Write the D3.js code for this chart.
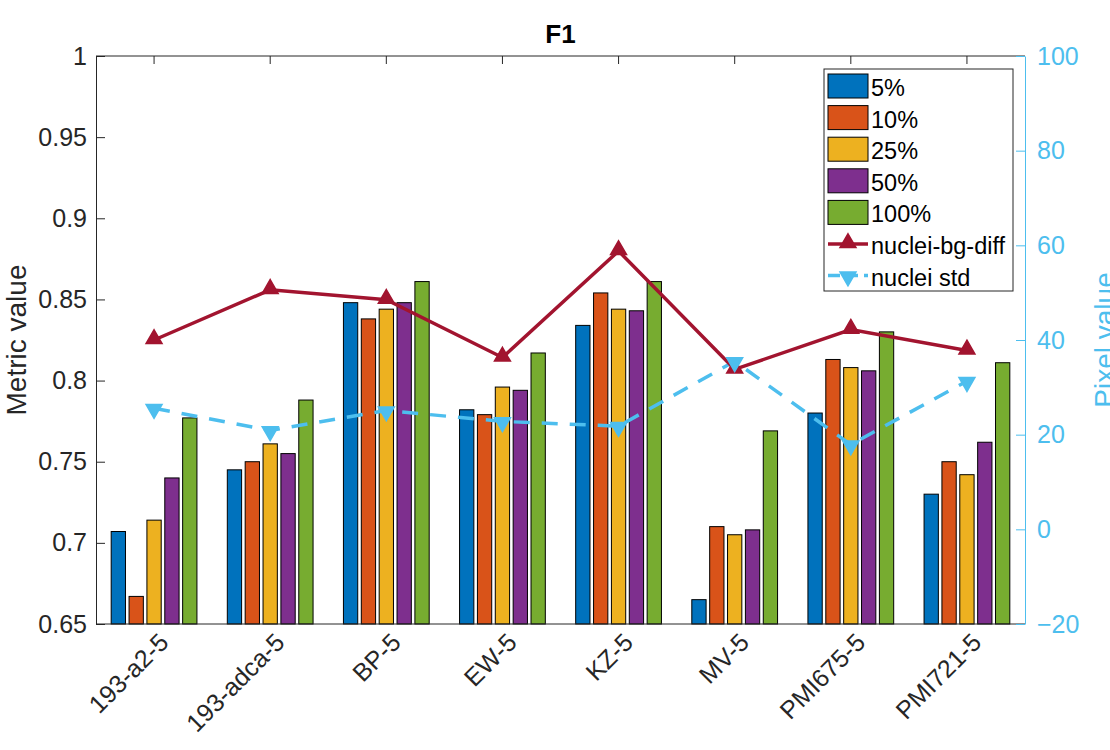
<!DOCTYPE html>
<html>
<head>
<meta charset="utf-8">
<script src="https://cdn.jsdelivr.net/npm/d3@7"></script>
<style>
  body { margin: 0; background: #fff; }
  text { font-family: "Liberation Sans", Arial, Helvetica, sans-serif; }
</style>
</head>
<body>
<div id="chart"></div>
<script>
// data
var categories = ["193-a2-5", "193-adca-5", "BP-5", "EW-5", "KZ-5", "MV-5", "PMI675-5", "PMI721-5"];
var seriesNames = ["5%", "10%", "25%", "50%", "100%"];
var f1_5   = [0.707, 0.745, 0.848, 0.782, 0.834, 0.665, 0.780, 0.730];
var f1_10  = [0.667, 0.750, 0.838, 0.779, 0.854, 0.710, 0.813, 0.750];
var f1_25  = [0.714, 0.761, 0.844, 0.796, 0.844, 0.705, 0.808, 0.742];
var f1_50  = [0.740, 0.755, 0.848, 0.794, 0.843, 0.708, 0.806, 0.762];
var f1_100 = [0.777, 0.788, 0.861, 0.817, 0.861, 0.769, 0.830, 0.811];
var bgDiff    = [40.0, 50.6, 48.5, 36.3, 58.8, 33.8, 42.2, 37.8];
var nucleiStd = [25.6, 20.9, 25.1, 22.8, 21.8, 35.5, 17.9, 31.3];
var leftTicks  = [0.65, 0.7, 0.75, 0.8, 0.85, 0.9, 0.95, 1];
var rightTicks = [-20, 0, 20, 40, 60, 80, 100];

var barValues = [f1_5, f1_10, f1_25, f1_50, f1_100];
var barColors = ["#0072BD", "#D95319", "#EDB120", "#7E2F8E", "#77AC30"];
var redColor = "#A2142F";
var blueColor = "#4DBEEE";

function init() {
    var w = 1110, h = 750;
    var pLeft = 96, pRight = 1025, pTop = 56, pBottom = 624;

    var svg = d3.select("#chart").append("svg")
        .attr("width", w)
        .attr("height", h);

    var x = d3.scaleBand().domain(categories).range([pLeft, pRight]).padding(0);
    var groupW = x.bandwidth() * 5 / 6.5;
    var xInner = d3.scaleBand().domain(seriesNames).range([-groupW / 2, groupW / 2])
        .paddingInner(0.2).paddingOuter(0.1);
    var yL = d3.scaleLinear().domain([0.65, 1]).range([pBottom, pTop]);
    var yR = d3.scaleLinear().domain([-20, 100]).range([pBottom, pTop]);

    function cx(c) { return x(c) + x.bandwidth() / 2; }

    // bottom x ticks (inside, behind bars)
    svg.append("g").selectAll("line")
        .data(categories).enter().append("line")
        .attr("x1", cx).attr("x2", cx)
        .attr("y1", pBottom).attr("y2", pBottom - 8)
        .attr("stroke", "#262626");

    // bars
    var groups = svg.append("g").selectAll("g")
        .data(barValues).enter().append("g")
        .attr("fill", function(d, i) { return barColors[i]; });

    groups.selectAll("rect")
        .data(function(d, i) { return d.map(function(v, j) { return {v: v, s: seriesNames[i], c: categories[j]}; }); })
        .enter().append("rect")
        .attr("x", function(d) { return cx(d.c) + xInner(d.s); })
        .attr("y", function(d) { return yL(d.v); })
        .attr("width", xInner.bandwidth())
        .attr("height", function(d) { return yL(0.65) - yL(d.v); })
        .attr("stroke", "#000")
        .attr("stroke-width", 1);

    // lines on right axis
    var lineR = d3.line()
        .x(function(d, i) { return cx(categories[i]); })
        .y(function(d) { return yR(d); });

    svg.append("path").datum(nucleiStd)
        .attr("d", lineR)
        .attr("fill", "none")
        .attr("stroke", blueColor)
        .attr("stroke-width", 3.5)
        .attr("stroke-dasharray", "16,12");

    svg.append("path").datum(bgDiff)
        .attr("d", lineR)
        .attr("fill", "none")
        .attr("stroke", redColor)
        .attr("stroke-width", 3.5);

    var triUp = d3.symbol().type(d3.symbolTriangle).size(110);

    svg.append("g").selectAll("path")
        .data(bgDiff).enter().append("path")
        .attr("d", triUp)
        .attr("transform", function(d, i) { return "translate(" + cx(categories[i]) + "," + (yR(d) - 1) + ")"; })
        .attr("fill", redColor)
        .attr("stroke", redColor)
        .attr("stroke-width", 1.5);

    svg.append("g").selectAll("path")
        .data(nucleiStd).enter().append("path")
        .attr("d", triUp)
        .attr("transform", function(d, i) { return "translate(" + cx(categories[i]) + "," + (yR(d) + 1) + ") rotate(180)"; })
        .attr("fill", blueColor)
        .attr("stroke", blueColor)
        .attr("stroke-width", 1.5);

    // axes frame
    svg.append("line").attr("x1", pLeft).attr("x2", pRight).attr("y1", pBottom).attr("y2", pBottom)
        .attr("stroke", "#262626");
    svg.append("line").attr("x1", pLeft).attr("x2", pRight).attr("y1", pTop).attr("y2", pTop)
        .attr("stroke", "#262626");

    // top ticks
    svg.append("g").selectAll("line")
        .data(categories).enter().append("line")
        .attr("x1", cx).attr("x2", cx)
        .attr("y1", pTop).attr("y2", pTop + 8)
        .attr("stroke", "#262626");

    // left axis
    var gL = svg.append("g").attr("transform", "translate(" + pLeft + ",0)")
        .call(d3.axisLeft(yL).tickValues(leftTicks).tickSizeInner(-9).tickSizeOuter(0).tickPadding(9)
            .tickFormat(function(d) { return String(+d.toFixed(2)); }));
    gL.select(".domain").attr("stroke", "#262626");
    gL.selectAll(".tick line").attr("stroke", "#262626");
    gL.selectAll("text").attr("font-size", 25).attr("fill", "#262626")
        .attr("font-family", "Liberation Sans, Arial, sans-serif");

    // right axis
    var gR = svg.append("g").attr("transform", "translate(" + pRight + ",0)")
        .call(d3.axisRight(yR).tickValues(rightTicks).tickSizeInner(-9).tickSizeOuter(0).tickPadding(12));
    gR.select(".domain").attr("stroke", blueColor);
    gR.selectAll(".tick line").attr("stroke", blueColor);
    gR.selectAll("text").attr("font-size", 25).attr("fill", blueColor)
        .attr("font-family", "Liberation Sans, Arial, sans-serif");

    // x tick labels, rotated
    svg.append("g").selectAll("text")
        .data(categories).enter().append("text")
        .attr("transform", function(d) { return "translate(" + (cx(d) + 16) + "," + (pBottom + 20) + ") rotate(-45)"; })
        .attr("text-anchor", "end")
        .attr("font-size", 25)
        .attr("fill", "#262626")
        .text(function(d) { return d; });

    // title and axis labels
    svg.append("text").attr("x", (pLeft + pRight) / 2).attr("y", 43)
        .attr("text-anchor", "middle").attr("font-size", 26).attr("font-weight", "bold")
        .attr("fill", "#000").text("F1");

    svg.append("text")
        .attr("transform", "translate(26," + ((pTop + pBottom) / 2) + ") rotate(-90)")
        .attr("text-anchor", "middle").attr("font-size", 28).attr("fill", "#262626")
        .text("Metric value");

    svg.append("text")
        .attr("transform", "translate(1114," + ((pTop + pBottom) / 2) + ") rotate(-90)")
        .attr("text-anchor", "middle").attr("font-size", 28).attr("fill", blueColor)
        .text("Pixel value");

    // legend
    var lg = svg.append("g").attr("transform", "translate(824,69)");
    lg.append("rect").attr("x", 0).attr("y", 0).attr("width", 189).attr("height", 222)
        .attr("fill", "#fff").attr("stroke", "#262626").attr("stroke-width", 1);

    var rowH = 31.6;
    lg.selectAll("rect.patch")
        .data(seriesNames).enter().append("rect")
        .attr("class", "patch")
        .attr("x", 4).attr("y", function(d, i) { return 5 + i * rowH; })
        .attr("width", 40).attr("height", 24)
        .attr("fill", function(d, i) { return barColors[i]; })
        .attr("stroke", "#000");

    var lineNames = ["nuclei-bg-diff", "nuclei std"];
    var allNames = seriesNames.concat(lineNames);
    lg.selectAll("text")
        .data(allNames).enter().append("text")
        .attr("x", 47).attr("y", function(d, i) { return 27 + i * rowH; })
        .attr("font-size", 23.5).attr("fill", "#000")
        .text(function(d) { return d; });

    var ly1 = 17 + 5 * rowH, ly2 = 17 + 6 * rowH;
    lg.append("line").attr("x1", 4).attr("x2", 44).attr("y1", ly1).attr("y2", ly1)
        .attr("stroke", redColor).attr("stroke-width", 3.5);
    lg.append("path").attr("d", triUp).attr("transform", "translate(24," + (ly1 - 1) + ")")
        .attr("fill", redColor).attr("stroke", redColor).attr("stroke-width", 1.5);
    lg.append("line").attr("x1", 4).attr("x2", 44).attr("y1", ly2).attr("y2", ly2)
        .attr("stroke", blueColor).attr("stroke-width", 3.5).attr("stroke-dasharray", "12,6");
    lg.append("path").attr("d", triUp).attr("transform", "translate(24," + (ly2 + 1) + ") rotate(180)")
        .attr("fill", blueColor).attr("stroke", blueColor).attr("stroke-width", 1.5);
}

window.onload = init;
</script>
</body>
</html>
